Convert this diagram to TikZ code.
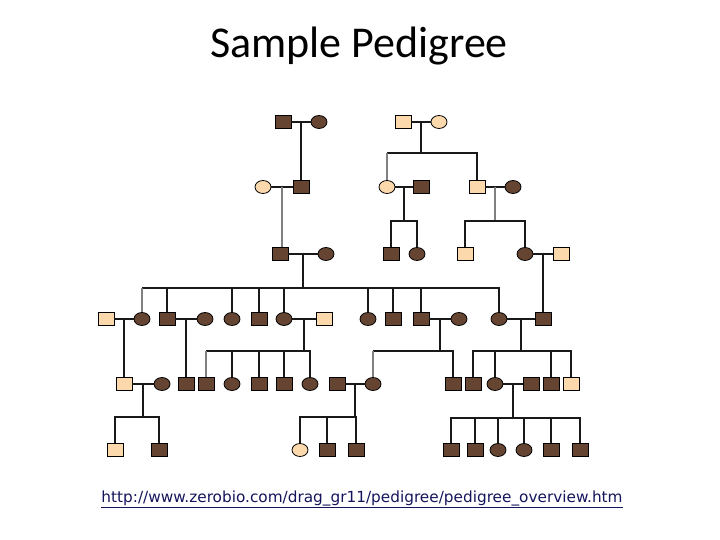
\documentclass[tikz,border=0pt]{standalone}
\usepackage{fontspec}
\usepackage{tikz}
\usetikzlibrary{positioning,calc,shapes.geometric}
\newfontfamily\titlefont{Carlito}
\newfontfamily\urlfont{DejaVu Sans}
\definecolor{darkbrown}{HTML}{654532}
\definecolor{lighttan}{HTML}{FCD9AC}
\definecolor{linknavy}{HTML}{14145C}

\begin{document}
\begin{tikzpicture}[x=1pt, y=-1pt,
    male/.style={rectangle, draw=black, line width=0.8pt, minimum width=16pt, minimum height=13pt, inner sep=0pt},
    female/.style={ellipse, draw=black, line width=0.8pt, minimum width=16pt, minimum height=13pt, inner sep=0pt},
    aff/.style={fill=darkbrown},
    unaff/.style={fill=lighttan},
    link/.style={line width=1.2pt, black!90},
    faint/.style={line width=1.2pt, black!50}]
        \useasboundingbox (0,0) rectangle (720,540);

        % Title
        \node[font=\titlefont\fontsize{44}{52}\selectfont] (title) at (359,46) {Sample Pedigree};

        % Generation I
        \node[male,aff] (a1) at (283,122) {};
        \node[female,aff] (a2) at (319,122) {};
        \node[male,unaff] (a3) at (403,122) {};
        \node[female,unaff] (a4) at (439,122) {};

        % Generation II
        \node[female,unaff] (b1) at (263,187) {};
        \node[male,aff] (b2) at (301,187) {};
        \node[female,unaff] (b3) at (387,187) {};
        \node[male,aff] (b4) at (421,187) {};
        \node[male,unaff] (b5) at (477,187) {};
        \node[female,aff] (b6) at (513,187) {};

        % Generation III
        \node[male,aff] (c1) at (280,254) {};
        \node[female,aff] (c2) at (326,254) {};
        \node[male,aff] (c3) at (391,254) {};
        \node[female,aff] (c4) at (417,254) {};
        \node[male,unaff] (c5) at (465,254) {};
        \node[female,aff] (c6) at (525,254) {};
        \node[male,unaff] (c7) at (561,254) {};

        % Generation IV
        \node[male,unaff] (d1) at (106,319) {};
        \node[female,aff] (d2) at (142,319) {};
        \node[male,aff] (d3) at (167,319) {};
        \node[female,aff] (d4) at (205,319) {};
        \node[female,aff] (d5) at (232,319) {};
        \node[male,aff] (d6) at (259,319) {};
        \node[female,aff] (d7) at (284,319) {};
        \node[male,unaff] (d8) at (324,319) {};
        \node[female,aff] (d9) at (368,319) {};
        \node[male,aff] (d10) at (393,319) {};
        \node[male,aff] (d11) at (421,319) {};
        \node[female,aff] (d12) at (459,319) {};
        \node[female,aff] (d13) at (499,319) {};
        \node[male,aff] (d14) at (543,319) {};

        % Generation V
        \node[male,unaff] (e1) at (124,384) {};
        \node[female,aff] (e2) at (162,384) {};
        \node[male,aff] (e3) at (186,384) {};
        \node[male,aff] (e4) at (206,384) {};
        \node[female,aff] (e5) at (232,384) {};
        \node[male,aff] (e6) at (259,384) {};
        \node[male,aff] (e7) at (284,384) {};
        \node[female,aff] (e8) at (310,384) {};
        \node[male,aff] (e9) at (337,384) {};
        \node[female,aff] (e10) at (373,384) {};
        \node[male,aff] (e11) at (453,384) {};
        \node[male,aff] (e12) at (473,384) {};
        \node[female,aff] (e13) at (495,384) {};
        \node[male,aff] (e14) at (531,384) {};
        \node[male,aff] (e15) at (551,384) {};
        \node[male,unaff] (e16) at (571,384) {};

        % Generation VI
        \node[male,unaff] (f1) at (115,450) {};
        \node[male,aff] (f2) at (159,450) {};
        \node[female,unaff] (f3) at (300,450) {};
        \node[male,aff] (f4) at (327,450) {};
        \node[male,aff] (f5) at (356,450) {};
        \node[male,aff] (f6) at (451,450) {};
        \node[male,aff] (f7) at (475,450) {};
        \node[female,aff] (f8) at (498,450) {};
        \node[female,aff] (f9) at (524,450) {};
        \node[male,aff] (f10) at (551,450) {};
        \node[male,aff] (f11) at (580,450) {};

        % Couples
        \foreach \p/\q in {a1/a2, a3/a4, b1/b2, b3/b4, b5/b6, c1/c2, c6/c7,
                           d1/d2, d3/d4, d7/d8, d11/d12, d13/d14, e1/e2, e9/e10, e13/e14}
          \draw[link] (\p) -- (\q);

        % Single children
        \coordinate (ma) at ($(a1)!0.5!(a2)$);
        \draw[link] (ma) -- (ma |- b2.north);
        \coordinate (mb) at ($(b1)!0.5!(b2)$);
        \draw[faint] (mb) -- (mb |- c1.north);
        \coordinate (mc) at ($(c6)!0.5!(c7)$);
        \draw[link] (mc) -- (mc |- d14.north);
        \coordinate (md) at ($(d1)!0.5!(d2)$);
        \draw[link] (md) -- (md |- e1.north);
        \coordinate (me) at ($(d3)!0.5!(d4)$);
        \draw[link] (me) -- (me |- e3.north);

        % Sibships
        \coordinate (m1) at ($(a3)!0.5!(a4)$);
        \coordinate (s1) at (m1 |- 0,153);
        \draw[link] (m1) -- (s1);
        \draw[link] (s1) -- (s1 -| b3);
        \draw[faint] (s1 -| b3) -- (b3);
        \draw[link] (s1) -| (b5);

        \coordinate (m2) at ($(b3)!0.5!(b4)$);
        \coordinate (s2) at (m2 |- 0,221);
        \draw[link] (m2) -- (s2);
        \foreach \k in {c3,c4} \draw[link] (s2) -| (\k);

        \coordinate (m3) at ($(b5)!0.5!(b6)$);
        \coordinate (s3) at (m3 |- 0,221);
        \draw[faint] (m3) -- (s3);
        \foreach \k in {c5,c6} \draw[link] (s3) -| (\k);

        \coordinate (m4) at ($(c1)!0.5!(c2)$);
        \coordinate (s4) at (m4 |- 0,288);
        \draw[link] (m4) -- (s4);
        \draw[link] (s4) -- (s4 -| d2);
        \draw[faint] (s4 -| d2) -- (d2);
        \foreach \k in {d3,d5,d6,d7,d9,d10,d11,d13} \draw[link] (s4) -| (\k);

        \coordinate (m5) at ($(d7)!0.5!(d8)$);
        \coordinate (s5) at (m5 |- 0,351);
        \draw[link] (m5) -- (s5);
        \draw[link] (s5) -- (s5 -| e4);
        \draw[faint] (s5 -| e4) -- (e4);
        \foreach \k in {e5,e6,e7,e8} \draw[link] (s5) -| (\k);

        \coordinate (m6) at ($(d11)!0.5!(d12)$);
        \coordinate (s6) at (m6 |- 0,351);
        \draw[link] (m6) -- (s6);
        \draw[link] (s6) -- (s6 -| e10);
        \draw[faint] (s6 -| e10) -- (e10);
        \draw[link] (s6) -| (e11);

        \coordinate (m7) at ($(d13)!0.5!(d14)$);
        \coordinate (s7) at (m7 |- 0,351);
        \draw[link] (m7) -- (s7);
        \foreach \k in {e12,e13,e15,e16} \draw[link] (s7) -| (\k);

        \coordinate (m8) at ($(e1)!0.5!(e2)$);
        \coordinate (s8) at (m8 |- 0,417);
        \draw[link] (m8) -- (s8);
        \foreach \k in {f1,f2} \draw[link] (s8) -| (\k);

        \coordinate (m9) at ($(e9)!0.5!(e10)$);
        \coordinate (s9) at (m9 |- 0,417);
        \draw[link] (m9) -- (s9);
        \foreach \k in {f3,f4,f5} \draw[link] (s9) -| (\k);

        \coordinate (m10) at ($(e13)!0.5!(e14)$);
        \coordinate (s10) at (m10 |- 0,418);
        \draw[link] (m10) -- (s10);
        \foreach \k in {f6,f7,f8,f9,f10,f11} \draw[link] (s10) -| (\k);

        % Source
        \node[font=\urlfont\fontsize{15.3}{18}\selectfont, text=linknavy] (url) at (362,499)
          {\underline{http://www.zerobio.com/drag\_gr11/pedigree/pedigree\_overview.htm}};
      \end{tikzpicture}
\end{document}
